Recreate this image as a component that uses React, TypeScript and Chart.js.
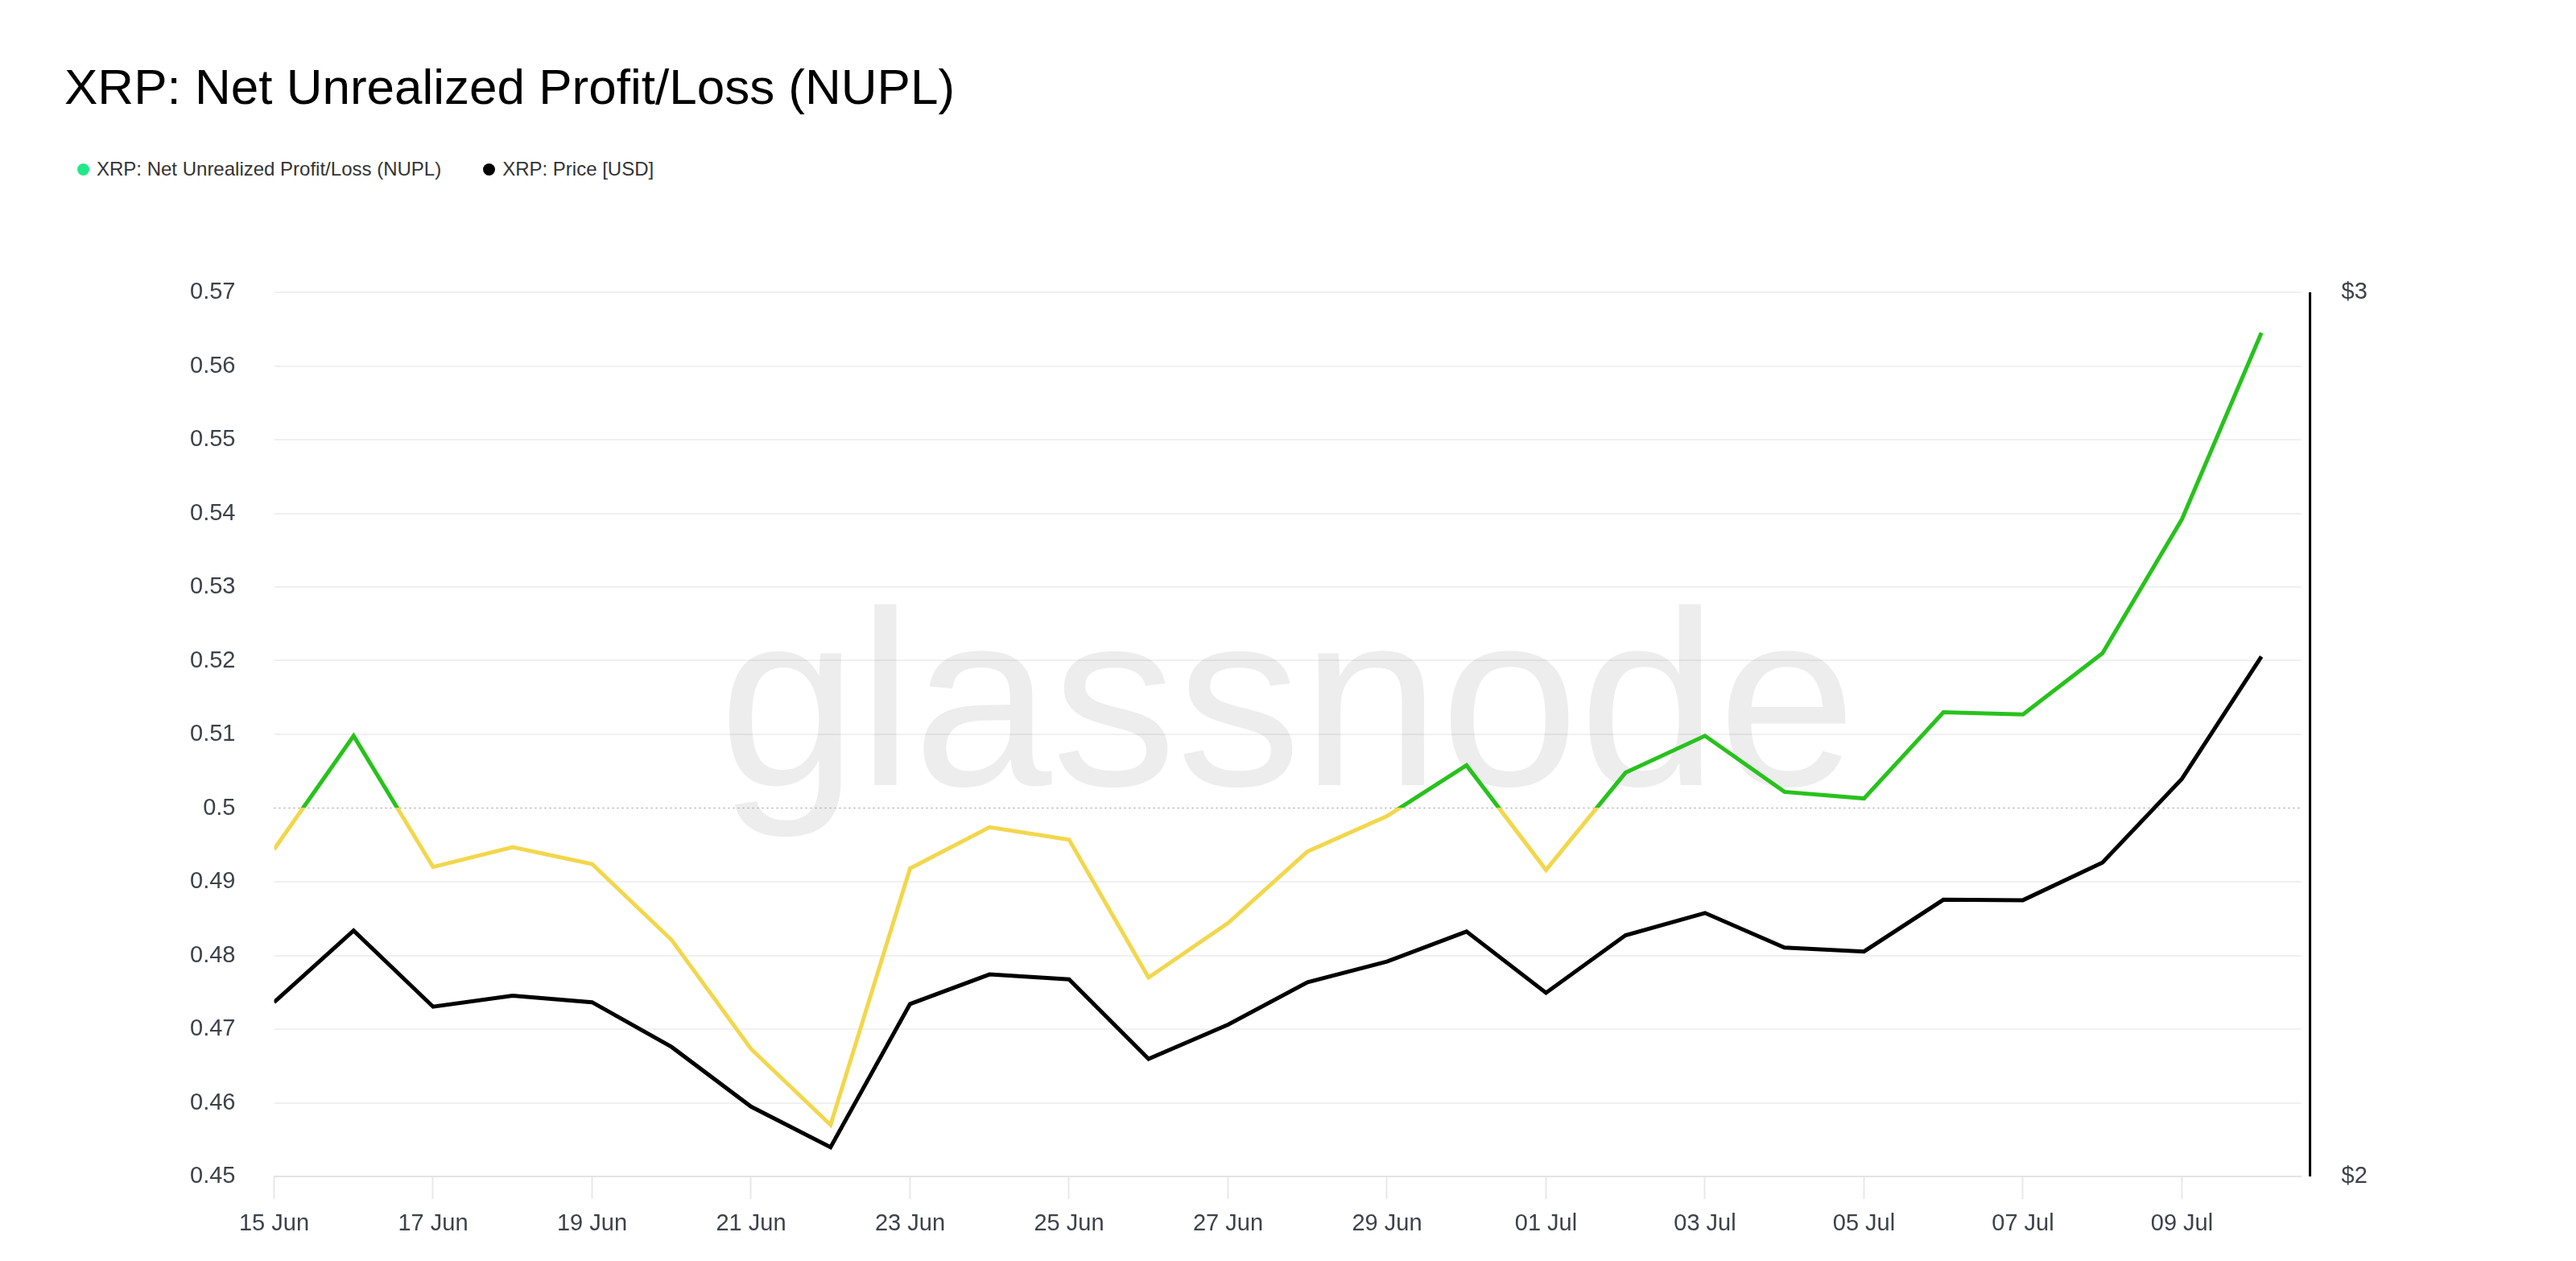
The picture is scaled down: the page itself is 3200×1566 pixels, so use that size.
import React, { useEffect, useRef } from "react";
import { Chart, registerables } from "chart.js";

Chart.register(...registerables);

const dateLabels = [
  "15 Jun", "16 Jun", "17 Jun", "18 Jun", "19 Jun", "20 Jun", "21 Jun", "22 Jun",
  "23 Jun", "24 Jun", "25 Jun", "26 Jun", "27 Jun", "28 Jun", "29 Jun", "30 Jun",
  "01 Jul", "02 Jul", "03 Jul", "04 Jul", "05 Jul", "06 Jul", "07 Jul", "08 Jul",
  "09 Jul", "10 Jul",
];

const nuplValues = [
  0.4944, 0.5098, 0.492, 0.4947, 0.4924, 0.4821, 0.4673, 0.457,
  0.4918, 0.4974, 0.4957, 0.477, 0.4844, 0.4941, 0.4989, 0.5058,
  0.4916, 0.5048, 0.5098, 0.5022, 0.5013, 0.513, 0.5127, 0.521,
  0.5392, 0.5645,
];

const priceValues = [
  2.197, 2.278, 2.192, 2.2045, 2.197, 2.1465, 2.079, 2.033,
  2.195, 2.2285, 2.223, 2.133, 2.1717, 2.2197, 2.243, 2.277,
  2.2077, 2.2727, 2.298, 2.2588, 2.2544, 2.313, 2.3125, 2.355,
  2.4497, 2.588,
];

const nuplAxisRange = [0.45, 0.57];
const nuplAxisStep = 0.01;
const priceAxisRange = [2, 3];
const nuplThreshold = 0.5;

const TITLE = "XRP: Net Unrealized Profit/Loss (NUPL)";
const LEGEND_NUPL = "XRP: Net Unrealized Profit/Loss (NUPL)";
const LEGEND_PRICE = "XRP: Price [USD]";

const FONT = '"Liberation Sans", Arial, Helvetica, sans-serif';
const GREEN = "#27c21c";
const YELLOW = "#f2d74c";
const TICK_COLOR = "#3d4149";

const overlayPlugin = {
  id: "overlayPlugin",
  beforeDatasetsDraw(chart: any) {
    const { ctx, chartArea, scales } = chart;
    ctx.save();
    // watermark
    ctx.font = `310px ${FONT}`;
    ctx.fillStyle = "rgba(0,0,0,0.07)";
    ctx.textAlign = "center";
    ctx.textBaseline = "alphabetic";
    ctx.fillText(
      "glassnode",
      (chartArea.left + chartArea.right) / 2,
      (chartArea.top + chartArea.bottom) / 2 + 63
    );
    // dotted threshold line
    const y = scales.y.getPixelForValue(nuplThreshold);
    ctx.strokeStyle = "#b0b0b0";
    ctx.lineWidth = 1.5;
    ctx.setLineDash([2, 4]);
    ctx.beginPath();
    ctx.moveTo(chartArea.left, y);
    ctx.lineTo(chartArea.right, y);
    ctx.stroke();
    ctx.restore();
  },
  afterDraw(chart: any) {
    const { ctx, chartArea } = chart;
    const x = chartArea.right + 11;
    ctx.save();
    ctx.strokeStyle = "#000";
    ctx.lineWidth = 3;
    ctx.beginPath();
    ctx.moveTo(x, chartArea.top);
    ctx.lineTo(x, chartArea.bottom);
    ctx.stroke();
    ctx.restore();
  },
};

function nuplColor(context: any) {
  const chart = context.chart;
  const { chartArea, scales } = chart;
  if (!chartArea || !scales.y) return GREEN;
  const y = scales.y.getPixelForValue(nuplThreshold);
  const g = chart.ctx.createLinearGradient(0, chartArea.top, 0, chartArea.bottom);
  const s = Math.min(1, Math.max(0, (y - chartArea.top) / (chartArea.bottom - chartArea.top)));
  g.addColorStop(0, GREEN);
  g.addColorStop(s, GREEN);
  g.addColorStop(s, YELLOW);
  g.addColorStop(1, YELLOW);
  return g;
}

export default function App() {
  const canvasRef = useRef<HTMLCanvasElement | null>(null);

  useEffect(() => {
    document.body.style.margin = "0";
    const canvas = canvasRef.current;
    if (!canvas) return;
    const chart = new Chart(canvas, {
      type: "line",
      data: {
        datasets: [
          {
            label: LEGEND_NUPL,
            data: nuplValues.map((v, i) => ({ x: i, y: v })),
            yAxisID: "y",
            borderColor: nuplColor as any,
            borderWidth: 5,
            pointRadius: 0,
            tension: 0,
            fill: false,
          },
          {
            label: LEGEND_PRICE,
            data: priceValues.map((v, i) => ({ x: i, y: v })),
            yAxisID: "y1",
            borderColor: "#000000",
            borderWidth: 5,
            pointRadius: 0,
            tension: 0,
            fill: false,
          },
        ],
      },
      options: {
        animation: false,
        responsive: false,
        maintainAspectRatio: false,
        devicePixelRatio: 1,
        layout: { padding: { left: 80, right: 0, top: 363, bottom: 0 } },
        plugins: {
          legend: { display: false },
          title: { display: false },
          tooltip: { enabled: false },
        },
        scales: {
          x: {
            type: "linear",
            min: 0,
            max: 25.5,
            afterFit: (scale: any) => {
              scale.height = 105;
            },
            ticks: {
              stepSize: 2,
              includeBounds: false,
              autoSkip: false,
              maxRotation: 0,
              padding: 14,
              color: TICK_COLOR,
              font: { family: FONT, size: 29 },
              callback: (v: any) => dateLabels[Math.round(Number(v))] ?? "",
            },
            grid: {
              drawOnChartArea: false,
              drawTicks: true,
              tickLength: 28,
              tickColor: "#e8e8e8",
              tickWidth: 2,
            },
            border: { display: true, color: "#e4e4e4", width: 2 },
          },
          y: {
            type: "linear",
            position: "left",
            min: nuplAxisRange[0],
            max: nuplAxisRange[1],
            afterFit: (scale: any) => {
              scale.width = 260.5;
            },
            ticks: {
              stepSize: nuplAxisStep,
              padding: 48,
              color: TICK_COLOR,
              font: { family: FONT, size: 29 },
              callback: (v: any) => String(Math.round(Number(v) * 100) / 100),
            },
            grid: {
              drawTicks: false,
              lineWidth: 2,
              color: (c: any) =>
                c.tick && Math.abs(c.tick.value - nuplThreshold) < 1e-6
                  ? "rgba(0,0,0,0)"
                  : "#f0f0f0",
            },
            border: { display: false },
          },
          y1: {
            type: "linear",
            position: "right",
            min: priceAxisRange[0],
            max: priceAxisRange[1],
            afterFit: (scale: any) => {
              scale.width = 341.4;
            },
            ticks: {
              stepSize: 1,
              padding: 50,
              color: TICK_COLOR,
              font: { family: FONT, size: 29 },
              callback: (v: any) => "$" + v,
            },
            grid: { drawOnChartArea: false, drawTicks: false },
            border: { display: false },
          },
        },
      },
      plugins: [overlayPlugin],
    });
    return () => chart.destroy();
  }, []);

  return (
    <div
      style={{
        position: "fixed",
        left: 0,
        top: 0,
        width: 3200,
        height: 1566,
        background: "#ffffff",
        fontFamily: FONT,
      }}
    >
      <div
        style={{
          position: "absolute",
          left: 80,
          top: 77,
          fontSize: 62,
          lineHeight: "62px",
          color: "#000",
          whiteSpace: "nowrap",
        }}
      >
        {TITLE}
      </div>
      <div
        style={{
          position: "absolute",
          left: 96,
          top: 198,
          fontSize: 24,
          lineHeight: "24px",
          color: "#333",
          whiteSpace: "nowrap",
          display: "flex",
          alignItems: "center",
        }}
      >
        <span
          style={{
            display: "inline-block",
            width: 15,
            height: 15,
            borderRadius: "50%",
            background: "#22e889",
            marginRight: 9,
          }}
        />
        <span>{LEGEND_NUPL}</span>
        <span
          style={{
            display: "inline-block",
            width: 15,
            height: 15,
            borderRadius: "50%",
            background: "#000",
            marginLeft: 52,
            marginRight: 9,
          }}
        />
        <span>{LEGEND_PRICE}</span>
      </div>
      <canvas
        ref={canvasRef}
        width={3200}
        height={1566}
        style={{ position: "absolute", left: 0, top: 0, width: 3200, height: 1566 }}
      />
    </div>
  );
}
